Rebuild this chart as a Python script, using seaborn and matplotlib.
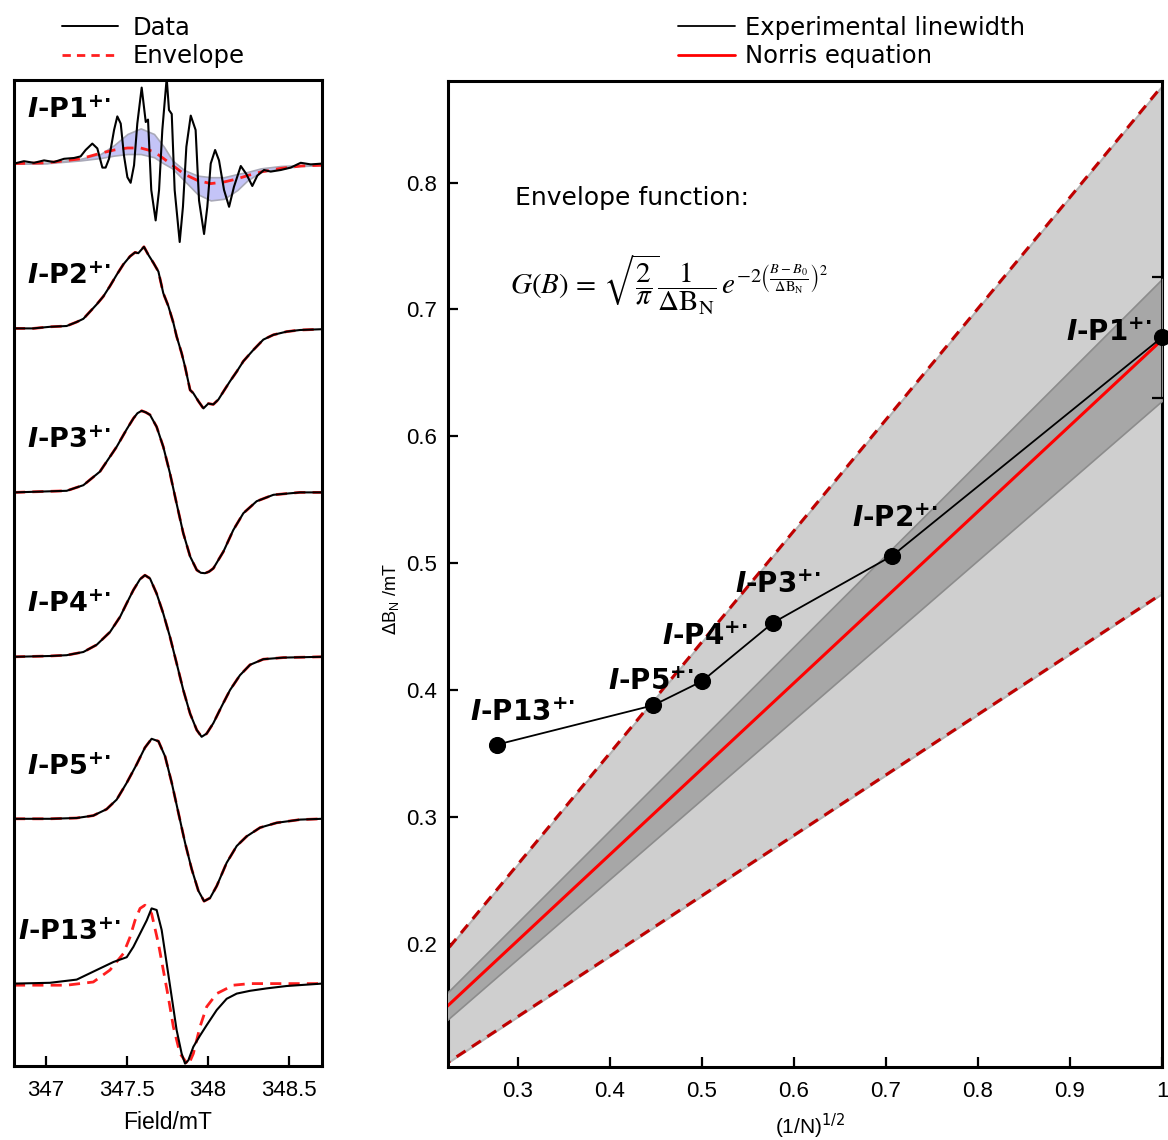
import numpy as np
import pandas as pd
import matplotlib
matplotlib.use("Agg")
import matplotlib.pyplot as plt
import matplotlib.transforms as mtransforms
from matplotlib.lines import Line2D
import seaborn as sns

# ---------------- left panel: EPR spectra (field in mT, signal normalised) ----------------
SPECTRA = ["P1", "P2", "P3", "P4", "P5", "P13"]

FIELD_P1 = [346.805, 346.866, 346.928, 346.990, 347.051, 347.113, 347.174, 347.215, 347.246, 347.287,
            347.318, 347.349, 347.369, 347.390, 347.421, 347.441, 347.462, 347.482, 347.503, 347.523,
            347.544, 347.564, 347.591, 347.616, 347.630, 347.650, 347.677, 347.698, 347.718, 347.745,
            347.759, 347.776, 347.794, 347.825, 347.845, 347.866, 347.893, 347.923, 347.944, 347.975,
            347.995, 348.016, 348.043, 348.067, 348.098, 348.129, 348.159, 348.201, 348.235, 348.272,
            348.303, 348.344, 348.385, 348.447, 348.508, 348.570, 348.632, 348.701]
SIG_P1 = [-0.02, 0.01, -0.01, 0.02, 0.00, 0.04, 0.05, 0.07, 0.15, 0.23,
          0.17, -0.07, -0.07, 0.04, 0.40, 0.57, 0.48, 0.08, -0.19, -0.26,
          -0.04, 0.48, 0.93, 0.50, 0.53, -0.35, -0.73, -0.35, 0.40, 1.05,
          0.65, 0.60, -0.35, -1.00, -0.56, 0.19, 0.58, 0.40, -0.48, -0.90,
          -0.56, -0.02, 0.15, 0.02, -0.35, -0.56, -0.31, -0.05, -0.15, -0.30,
          -0.17, -0.10, -0.12, -0.10, -0.07, -0.01, -0.03, -0.02]

FIELD_P2 = [346.805, 346.924, 347.026, 347.129, 347.191, 347.232, 347.273, 347.314, 347.355, 347.396,
            347.437, 347.478, 347.519, 347.550, 347.570, 347.605, 347.632, 347.663, 347.694, 347.724,
            347.755, 347.786, 347.806, 347.837, 347.858, 347.889, 347.909, 347.940, 347.971, 348.001,
            348.032, 348.063, 348.094, 348.135, 348.176, 348.217, 348.278, 348.340, 348.402, 348.484,
            348.566, 348.701]
SIG_P2 = [0.00, 0.00, 0.02, 0.03, 0.08, 0.12, 0.21, 0.30, 0.40, 0.53,
          0.67, 0.80, 0.90, 0.95, 0.94, 1.02, 0.92, 0.82, 0.71, 0.44,
          0.28, 0.07, -0.10, -0.31, -0.48, -0.77, -0.81, -0.91, -1.00, -0.94,
          -0.95, -0.89, -0.79, -0.66, -0.54, -0.41, -0.27, -0.14, -0.08, -0.04,
          -0.02, -0.01]

FIELD_P3 = [346.805, 347.129, 347.232, 347.334, 347.437, 347.499, 347.540, 347.565, 347.591, 347.617,
            347.642, 347.683, 347.724, 347.765, 347.806, 347.847, 347.889, 347.930, 347.955, 347.981,
            348.006, 348.032, 348.094, 348.155, 348.217, 348.299, 348.402, 348.566, 348.701]
SIG_P3 = [0.00, 0.02, 0.09, 0.26, 0.57, 0.79, 0.925, 0.99, 1.02, 1.00,
          0.97, 0.82, 0.57, 0.24, -0.14, -0.51, -0.80, -0.97, -1.005, -1.01,
          -0.99, -0.95, -0.74, -0.47, -0.26, -0.11, -0.03, 0.00, 0.00]

FIELD_P4 = [346.805, 347.026, 347.129, 347.232, 347.314, 347.396, 347.458, 347.499, 347.540, 347.581,
            347.611, 347.642, 347.683, 347.724, 347.765, 347.806, 347.847, 347.889, 347.930, 347.960,
            347.991, 348.032, 348.083, 348.135, 348.196, 348.258, 348.340, 348.463, 348.701]
SIG_P4 = [-0.01, 0.00, 0.01, 0.05, 0.14, 0.30, 0.49, 0.66, 0.825, 0.96,
          1.01, 0.97, 0.78, 0.53, 0.24, -0.09, -0.425, -0.72, -0.925, -1.01,
          -0.97, -0.84, -0.63, -0.425, -0.24, -0.11, -0.04, -0.02, -0.01]

FIELD_P5 = [346.805, 347.026, 347.191, 347.293, 347.375, 347.437, 347.499, 347.560, 347.611, 347.652,
            347.694, 347.735, 347.776, 347.817, 347.858, 347.899, 347.940, 347.975, 348.012, 348.053,
            348.114, 348.176, 348.237, 348.320, 348.422, 348.566, 348.701]
SIG_P5 = [0.00, 0.00, 0.01, 0.04, 0.12, 0.24, 0.45, 0.68, 0.89, 1.00,
          0.97, 0.78, 0.45, 0.075, -0.30, -0.63, -0.90, -1.03, -0.99, -0.84,
          -0.55, -0.34, -0.22, -0.11, -0.05, -0.01, 0.00]

FIELD_P13 = [346.805, 347.026, 347.191, 347.314, 347.417, 347.499, 347.540, 347.581, 347.622, 347.652,
             347.683, 347.714, 347.745, 347.776, 347.806, 347.837, 347.858, 347.878, 347.909, 347.950,
             347.991, 348.053, 348.114, 348.176, 348.258, 348.360, 348.484, 348.701]
SIG_P13 = [0.00, 0.01, 0.05, 0.17, 0.27, 0.33, 0.46, 0.625, 0.79, 0.94,
           0.92, 0.67, 0.25, -0.17, -0.58, -0.875, -1.00, -0.96, -0.79, -0.65,
           -0.52, -0.33, -0.19, -0.125, -0.09, -0.06, -0.03, 0.00]

# envelopes (for P2-P5 they coincide with the data)
ENV_FIELD_P1 = [346.805, 347.010, 347.215, 347.338, 347.421, 347.503, 347.585, 347.667, 347.728, 347.780,
                347.852, 347.934, 348.016, 348.098, 348.180, 348.242, 348.324, 348.447, 348.570, 348.701]
ENV_P1 = [-0.02, -0.01, 0.04, 0.11, 0.15, 0.175, 0.175, 0.13, 0.04, -0.04,
          -0.15, -0.23, -0.27, -0.25, -0.21, -0.17, -0.125, -0.08, -0.05, -0.04]
BAND_HI_P1 = [-0.02, -0.01, 0.04, 0.10, 0.21, 0.35, 0.42, 0.35, 0.19, 0.02,
              -0.10, -0.17, -0.19, -0.19, -0.15, -0.125, -0.08, -0.05, -0.04, -0.02]
BAND_LO_P1 = [-0.02, -0.015, 0.02, 0.05, 0.08, 0.10, 0.10, 0.06, -0.02, -0.08,
              -0.23, -0.40, -0.48, -0.46, -0.35, -0.23, -0.125, -0.08, -0.05, -0.04]
ENV_FIELD_P13 = [346.805, 347.129, 347.293, 347.396, 347.478, 347.519, 347.550, 347.581, 347.611, 347.652,
                 347.694, 347.724, 347.755, 347.786, 347.827, 347.878, 347.909, 347.950, 347.991, 348.053,
                 348.155, 348.258, 348.463, 348.701]
ENV_P13 = [-0.02, -0.02, 0.02, 0.17, 0.375, 0.58, 0.79, 0.94, 0.98, 0.875,
           0.50, 0.17, -0.17, -0.54, -0.875, -1.02, -0.875, -0.54, -0.29, -0.125,
           -0.02, 0.00, 0.00, 0.00]

FIELD_TICKS = [347, 347.5, 348, 348.5]
FIELD_TICK_LABELS = ["347", "347.5", "348", "348.5"]

# ---------------- right panel: linewidth vs (1/N)^1/2 ----------------
RT_LABELS = ["P13", "P5", "P4", "P3", "P2", "P1"]
INV_SQRT_N = [0.277, 0.447, 0.500, 0.577, 0.707, 1.000]
DELTA_B = [0.357, 0.388, 0.407, 0.453, 0.506, 0.678]
DELTA_B_P1_ERR = 0.0475
NORRIS_DB1 = 0.676          # Norris: dB_N = dB_1 * (1/N)^1/2
INNER_HALF = 0.048          # inner band half width at (1/N)^1/2 = 1
OUTER_HALF = 0.200          # outer band half width at (1/N)^1/2 = 1
RT_XTICKS = [0.3, 0.4, 0.5, 0.6, 0.7, 0.8, 0.9, 1.0]
RT_XTICK_LABELS = ["0.3", "0.4", "0.5", "0.6", "0.7", "0.8", "0.9", "1"]
RT_YTICKS = [0.2, 0.3, 0.4, 0.5, 0.6, 0.7, 0.8]
RT_YTICK_LABELS = ["0.2", "0.3", "0.4", "0.5", "0.6", "0.7", "0.8"]

# ---------------- layout / style (not data) ----------------
OFFSETS = [11.30, 9.22, 7.17, 5.125, 3.09, 1.03]
LEFT_LABEL_X = [0.041, 0.041, 0.041, 0.041, 0.041, 0.012]
RT_LABEL_OFFS = [(-27, 24), (-45, 15), (-40, 36), (-38, 30), (-40, 29), (-96, -4)]

sns.set_theme(style="white")
plt.rcParams["font.family"] = ["Liberation Sans", "DejaVu Sans"]
plt.rcParams["text.color"] = "black"
plt.rcParams["axes.labelcolor"] = "black"
plt.rcParams["xtick.color"] = "black"
plt.rcParams["ytick.color"] = "black"
plt.rcParams["mathtext.fontset"] = "custom"
plt.rcParams["mathtext.rm"] = "DejaVu Sans:bold"
plt.rcParams["mathtext.it"] = "DejaVu Sans:italic:bold"
plt.rcParams["mathtext.bf"] = "DejaVu Sans:bold"

W, H = 1168, 1140
fig = plt.figure(figsize=(W / 100, H / 100), dpi=100)
fig.patch.set_facecolor("white")
axL = fig.add_axes([14 / W, (H - 1066) / H, 308 / W, 986 / H])
axR = fig.add_axes([448 / W, (H - 1067) / H, 714 / W, 986 / H])

def lab(name):
    return r"$\mathit{I}$-" + name + r"$^{+·}$"

# ---- left panel ----
fields = [FIELD_P1, FIELD_P2, FIELD_P3, FIELD_P4, FIELD_P5, FIELD_P13]
sigs = [SIG_P1, SIG_P2, SIG_P3, SIG_P4, SIG_P5, SIG_P13]
env_fields = [ENV_FIELD_P1, FIELD_P2, FIELD_P3, FIELD_P4, FIELD_P5, ENV_FIELD_P13]
envs = [ENV_P1, SIG_P2, SIG_P3, SIG_P4, SIG_P5, ENV_P13]

data_rows, env_rows = [], []
for name, f, s, ef, ev, off in zip(SPECTRA, fields, sigs, env_fields, envs, OFFSETS):
    for a, b in zip(f, s):
        data_rows.append({"spectrum": name, "field": a, "y": b + off})
    for a, b in zip(ef, ev):
        env_rows.append({"spectrum": name, "field": a, "y": b + off})
df_data = pd.DataFrame(data_rows)
df_env = pd.DataFrame(env_rows)

axL.fill_between(ENV_FIELD_P1, np.array(BAND_LO_P1) + OFFSETS[0], np.array(BAND_HI_P1) + OFFSETS[0],
                 facecolor="#c4c4f7", edgecolor="#a9a9b8", lw=1.2, zorder=1)
n0 = len(axL.lines)
sns.lineplot(data=df_env, x="field", y="y", units="spectrum", estimator=None, sort=False,
             color="#ff1f1f", lw=2.0, ax=axL, legend=False, zorder=2)
for ln in axL.lines[n0:]:
    ln.set_dashes((4, 2.6))
sns.lineplot(data=df_data, x="field", y="y", units="spectrum", estimator=None, sort=False,
             color="black", lw=1.5, ax=axL, legend=False, zorder=3)

axL.set_xlim(346.805, 348.701)
axL.set_ylim(0, 12.325)
axL.set_yticks([])
axL.set_xticks(FIELD_TICKS)
axL.set_xticklabels(FIELD_TICK_LABELS)
axL.tick_params(axis="x", direction="in", length=7, width=1.6, bottom=True, top=False,
                labelsize=16, pad=10, colors="black")
axL.set_xlabel("Field/mT", fontsize=16.5, color="black")
axL.xaxis.set_label_coords(0.5, -0.046)
axL.set_ylabel("")
blend = mtransforms.blended_transform_factory(axL.transAxes, axL.transData)
for name, off, lx in zip(SPECTRA, OFFSETS, LEFT_LABEL_X):
    axL.text(lx, off + 0.55, lab(name), transform=blend, fontsize=19.5, fontweight="bold",
             family="DejaVu Sans", math_fontfamily="custom", ha="left", va="baseline", zorder=6,
             color="black")

# ---- right panel ----
xs = np.linspace(0.2, 1.0, 60)
axR.fill_between(xs, (NORRIS_DB1 - OUTER_HALF) * xs, (NORRIS_DB1 + OUTER_HALF) * xs,
                 facecolor="#cfcfcf", edgecolor="#b4b4b4", lw=1.5, zorder=1)
n0 = len(axR.lines)
sns.lineplot(x=xs, y=(NORRIS_DB1 + OUTER_HALF) * xs, color="#c00000", lw=2.2, ax=axR, zorder=2)
sns.lineplot(x=xs, y=(NORRIS_DB1 - OUTER_HALF) * xs, color="#c00000", lw=2.2, ax=axR, zorder=2)
for ln in axR.lines[n0:]:
    ln.set_dashes((3.5, 2.5))
axR.fill_between(xs, (NORRIS_DB1 - INNER_HALF) * xs, (NORRIS_DB1 + INNER_HALF) * xs,
                 facecolor="#a7a7a7", edgecolor="#8c8c8c", lw=1.2, zorder=3)
sns.lineplot(x=xs, y=NORRIS_DB1 * xs, color="#ff0000", lw=2.2, ax=axR, zorder=4)

df_pts = pd.DataFrame({"x": INV_SQRT_N, "dB": DELTA_B, "label": RT_LABELS})
sns.lineplot(data=df_pts, x="x", y="dB", estimator=None, sort=False, color="black", lw=1.3,
             ax=axR, zorder=5)
sns.scatterplot(data=df_pts, x="x", y="dB", s=130, color="black", edgecolor="black",
                ax=axR, zorder=6, clip_on=False, legend=False)
axR.errorbar([INV_SQRT_N[-1]], [DELTA_B[-1]], yerr=DELTA_B_P1_ERR, fmt="none", ecolor="black",
             elinewidth=1.2, capsize=7, capthick=1.6, zorder=5)
for (name, x, y), (ox, oy) in zip(zip(RT_LABELS, INV_SQRT_N, DELTA_B), RT_LABEL_OFFS):
    axR.annotate(lab(name), xy=(x, y), xytext=(ox, oy), textcoords="offset pixels",
                 fontsize=20, fontweight="bold", family="DejaVu Sans", math_fontfamily="custom",
                 ha="left", va="baseline", zorder=7, annotation_clip=False, color="black")

axR.set_xlim(0.224, 1.0)
axR.set_ylim(0.103, 0.88)
axR.set_xticks(RT_XTICKS)
axR.set_xticklabels(RT_XTICK_LABELS)
axR.set_yticks(RT_YTICKS)
axR.set_yticklabels(RT_YTICK_LABELS)
axR.tick_params(axis="both", direction="in", length=7, width=1.6, left=True, bottom=True,
                right=False, top=False, labelsize=16, colors="black")
axR.tick_params(axis="x", pad=10)
axR.tick_params(axis="y", pad=8)
axR.set_xlabel(r"(1/N)$^{1/2}$", fontsize=15, math_fontfamily="dejavusans", color="black")
axR.xaxis.set_label_coords(0.507, -0.045)
axR.set_ylabel(r"$\Delta$B$_\mathregular{N}$ /mT", fontsize=13, math_fontfamily="dejavusans", color="black")
axR.yaxis.set_label_coords(-0.066, 0.474)

for ax in (axL, axR):
    for sp in ax.spines.values():
        sp.set_visible(True)
        sp.set_color("black")
        sp.set_linewidth(2.2)
    ax.set_facecolor("white")

# ---- legends ----
leg_font = {"family": "DejaVu Sans", "size": 17.5}
h1 = [Line2D([0], [0], color="black", lw=1.4),
      Line2D([0], [0], color="#ff1f1f", lw=2.0, dashes=(3, 2.2))]
lg1 = fig.legend(h1, ["Data", "Envelope"], loc="center left", bbox_to_anchor=(62 / W, 1 - 42 / H),
                 frameon=False, borderpad=0, borderaxespad=0, handlelength=2.3, handletextpad=0.6,
                 labelspacing=0.2, prop=leg_font)
h2 = [Line2D([0], [0], color="black", lw=1.3), Line2D([0], [0], color="#ff0000", lw=2.0)]
lg2 = fig.legend(h2, ["Experimental linewidth", "Norris equation"], loc="center left",
                 bbox_to_anchor=(678 / W, 1 - 42 / H), frameon=False, borderpad=0, borderaxespad=0,
                 handlelength=2.35, handletextpad=0.42, labelspacing=0.2, prop=leg_font)
for lg in (lg1, lg2):
    for t in lg.get_texts():
        t.set_color("black")

# ---- envelope-function annotation ----
fig.text(515 / W, 1 - 198 / H, "Envelope function:", fontsize=18, family="DejaVu Sans",
         va="center", ha="left", color="black")
eq = (r"$G(B)\,=\,\sqrt{\dfrac{2}{\pi}}\dfrac{1}{\Delta\mathrm{B_N}}\,"
      r"e^{-2\left(\frac{B-B_0}{\Delta\mathrm{B_N}}\right)^2}$")
fig.text(510 / W, 1 - 285 / H, eq, fontsize=21, math_fontfamily="stix", va="center", ha="left",
         color="black")

fig.savefig("out.png", dpi=100, facecolor="white")
